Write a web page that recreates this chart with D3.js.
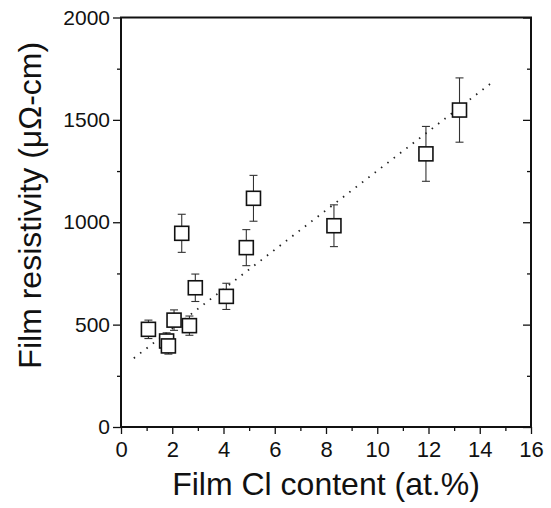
<!DOCTYPE html>
<html><head><meta charset="utf-8">
<script src="https://cdn.jsdelivr.net/npm/d3@7"></script>
<style>body{margin:0;background:#fff}svg{display:block}text{font-family:"Liberation Sans",Arial,sans-serif;fill:#111}</style>
</head><body>
<svg id="c" width="551" height="508"></svg>
<script>
const clContent = [1.07, 1.78, 1.85, 2.07, 2.37, 2.67, 2.9, 4.11, 4.89, 5.17, 8.31, 11.9, 13.21];
const resistivity = [477, 420, 396, 522, 946, 495, 680, 638, 876, 1117, 983, 1334, 1548];
const errBar = [45, 40, 40, 50, 93, 47, 67, 64, 88, 112, 102, 134, 157];
const fitX = [0.5, 14.45];
const fitY = [336, 1680];
const xTicks = [0, 2, 4, 6, 8, 10, 12, 14, 16];
const yTicks = [0, 500, 1000, 1500, 2000];
const xTitle = "Film Cl content (at.%)";
const yTitle = "Film resistivity (μΩ-cm)";

const svg = d3.select("#c");
const L = 121, R = 531, T = 17.5, B = 427;
const x = d3.scaleLinear().domain([0, 16]).range([L, R]);
const y = d3.scaleLinear().domain([0, 2000]).range([B, T]);
const ink = "#111";

const xMinor = d3.range(1, 16, 2);
const yMinor = [250, 750, 1250, 1750];

const gx = svg.append("g").attr("transform", `translate(0,${B})`)
  .call(d3.axisBottom(x).tickValues(xTicks).tickFormat(d3.format("d")).tickSize(7).tickPadding(7));
gx.selectAll("text").style("font-size", "22px");
svg.append("g").attr("transform", `translate(0,${B})`)
  .call(d3.axisBottom(x).tickValues(xMinor).tickFormat("").tickSize(4));
const gy = svg.append("g").attr("transform", `translate(${L},0)`)
  .call(d3.axisLeft(y).tickValues(yTicks).tickFormat(d3.format("d")).tickSize(8).tickPadding(3));
gy.selectAll("text").style("font-size", "21px");
svg.append("g").attr("transform", `translate(${L},0)`)
  .call(d3.axisLeft(y).tickValues(yMinor).tickFormat("").tickSize(4));
svg.append("g").attr("transform", `translate(${R},0)`)
  .call(d3.axisLeft(y).tickValues(yTicks).tickFormat("").tickSize(8));
svg.append("g").attr("transform", `translate(${R},0)`)
  .call(d3.axisLeft(y).tickValues(yMinor).tickFormat("").tickSize(4));
svg.selectAll(".domain").remove();
svg.selectAll(".tick line").attr("stroke", ink).attr("stroke-width", 1.3);

svg.append("rect").attr("x", L).attr("y", T).attr("width", R - L).attr("height", B - T)
  .attr("fill", "none").attr("stroke", ink).attr("stroke-width", 2);

svg.append("line")
  .attr("x1", x(fitX[0])).attr("y1", y(fitY[0]))
  .attr("x2", x(fitX[1])).attr("y2", y(fitY[1]))
  .attr("stroke", "#222").attr("stroke-width", 1.8)
  .attr("stroke-dasharray", "1.5,6.5");

const pts = clContent.map((d, i) => ({x: d, y: resistivity[i], e: errBar[i]}));
const eg = svg.append("g").attr("stroke", "#333").attr("stroke-width", 1.1);
pts.forEach(p => {
  const cx = x(p.x);
  eg.append("line").attr("x1", cx).attr("x2", cx).attr("y1", y(p.y + p.e)).attr("y2", y(p.y - p.e));
  eg.append("line").attr("x1", cx - 4).attr("x2", cx + 4).attr("y1", y(p.y + p.e)).attr("y2", y(p.y + p.e));
  eg.append("line").attr("x1", cx - 4).attr("x2", cx + 4).attr("y1", y(p.y - p.e)).attr("y2", y(p.y - p.e));
});
const s = 14;
svg.append("g").selectAll("rect").data(pts).join("rect")
  .attr("x", d => x(d.x) - s / 2).attr("y", d => y(d.y) - s / 2)
  .attr("width", s).attr("height", s)
  .attr("fill", "#fff").attr("stroke", ink).attr("stroke-width", 1.6);

svg.append("text").attr("x", (L + R) / 2).attr("y", 495).attr("text-anchor", "middle")
  .style("font-size", "32px").text(xTitle);
svg.append("text").attr("transform", `translate(41,${(T + B) / 2 - 17}) rotate(-90)`)
  .attr("text-anchor", "middle").style("font-size", "32px").text(yTitle);
</script>
</body></html>
